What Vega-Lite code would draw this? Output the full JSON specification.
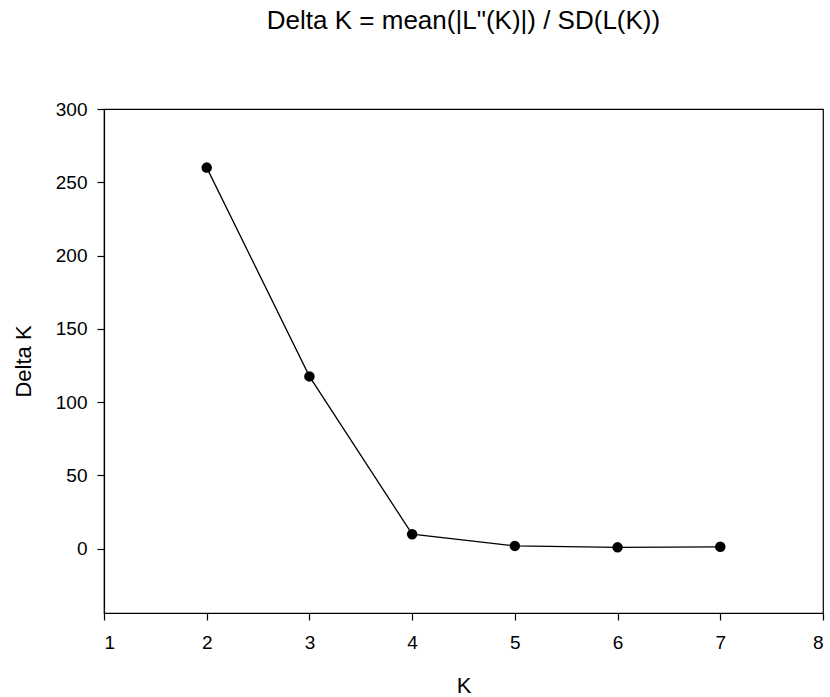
{
  "$schema": "https://vega.github.io/schema/vega-lite/v6.json",
  "width": 719,
  "height": 504,
  "autosize": "none",
  "padding": {"left": 104, "top": 109, "right": 7, "bottom": 84},
  "background": "white",
  "config": {
    "font": "Liberation Sans",
    "view": {"stroke": "black", "strokeWidth": 1.2},
    "axis": {
      "grid": false,
      "domainColor": "black",
      "domainWidth": 1.2,
      "tickColor": "black",
      "tickSize": 7,
      "tickWidth": 1.2,
      "labelFont": "Liberation Sans",
      "labelFontSize": 19,
      "labelColor": "black",
      "titleFont": "Liberation Sans",
      "titleFontSize": 22,
      "titleFontWeight": "normal",
      "titleColor": "black"
    }
  },
  "title": {
    "text": "Delta K = mean(|L\"(K)|) / SD(L(K))",
    "font": "Liberation Sans",
    "fontSize": 26,
    "fontWeight": "normal",
    "color": "black",
    "anchor": "middle",
    "offset": 66
  },
  "data": {
    "values": [
      {"K": 2, "DeltaK": 260},
      {"K": 3, "DeltaK": 117.5},
      {"K": 4, "DeltaK": 9.8},
      {"K": 5, "DeltaK": 1.8},
      {"K": 6, "DeltaK": 0.8},
      {"K": 7, "DeltaK": 1.2}
    ]
  },
  "encoding": {
    "x": {
      "field": "K",
      "type": "quantitative",
      "scale": {"domain": [1, 8], "nice": false, "zero": false},
      "axis": {"values": [1, 2, 3, 4, 5, 6, 7, 8], "title": "K", "labelPadding": 13, "titlePadding": 23}
    },
    "y": {
      "field": "DeltaK",
      "type": "quantitative",
      "scale": {"domain": [-44, 300], "nice": false, "zero": false},
      "axis": {"values": [0, 50, 100, 150, 200, 250, 300], "title": "Delta K", "labelPadding": 10, "titlePadding": 20}
    }
  },
  "layer": [
    {"mark": {"type": "line", "color": "black", "strokeWidth": 1.3}},
    {"mark": {"type": "point", "filled": true, "color": "black", "opacity": 1, "size": 110}}
  ]
}
